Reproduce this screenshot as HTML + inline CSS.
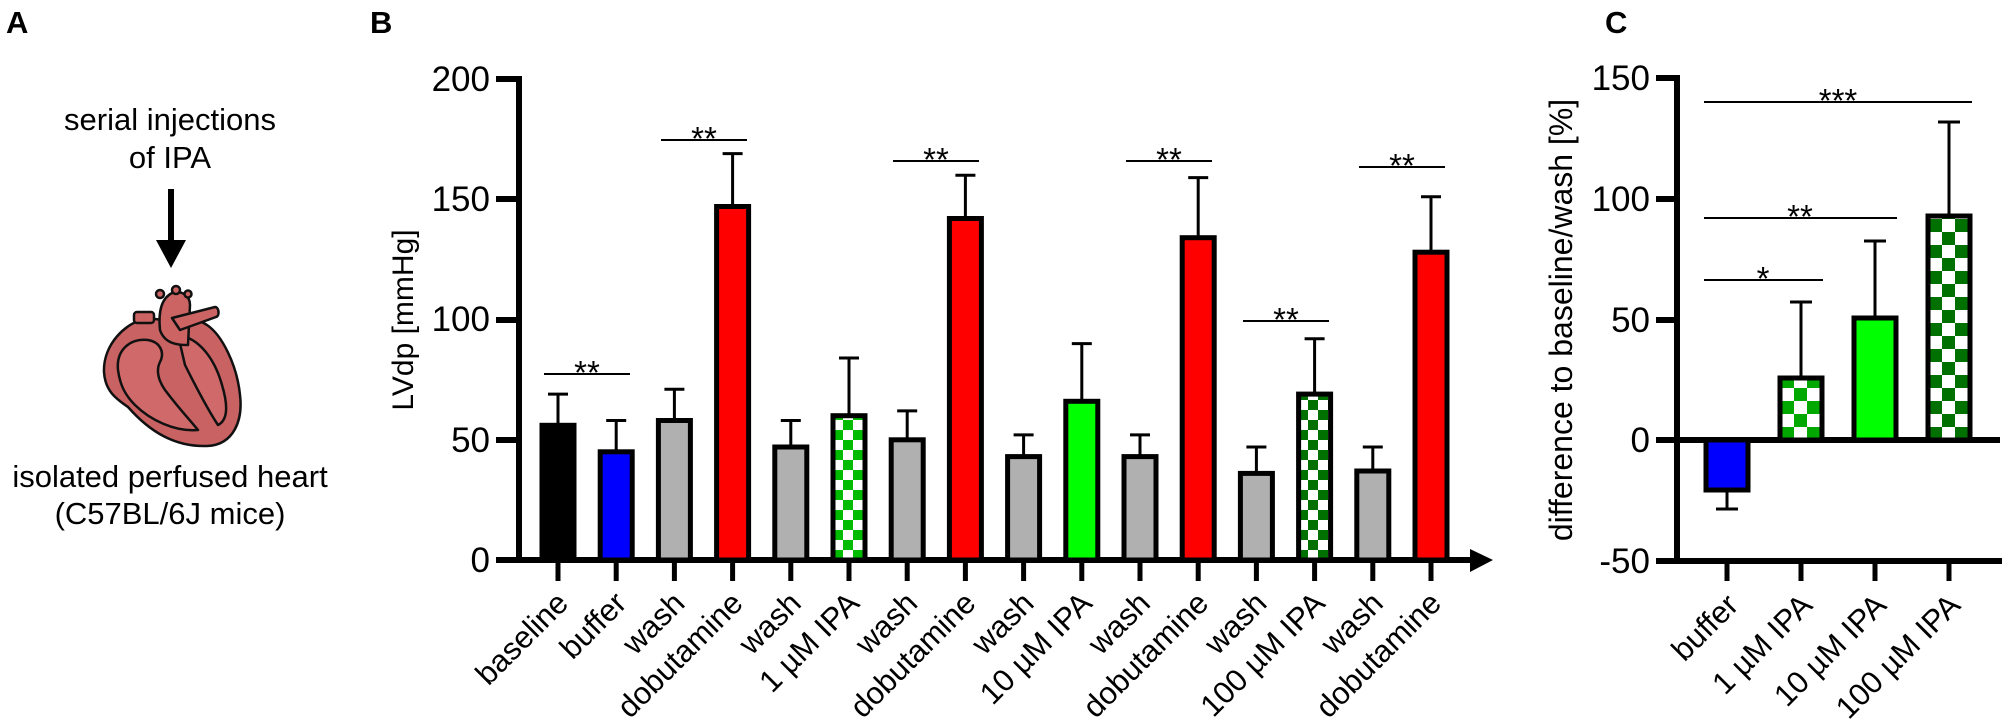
<!DOCTYPE html>
<html><head><meta charset="utf-8"><style>
html,body{margin:0;padding:0;background:#fff;}
svg{display:block;}
text{font-family:"Liberation Sans",Arial,sans-serif;fill:#000;}
</style></head><body>
<svg width="2008" height="725" viewBox="0 0 2008 725" xmlns="http://www.w3.org/2000/svg">
<defs>
<pattern id="pl" patternUnits="userSpaceOnUse" x="833" y="0" width="20" height="20"><rect width="20" height="20" fill="#fff"/><rect x="10" y="0" width="10" height="10" fill="#00bb00"/><rect x="0" y="10" width="10" height="10" fill="#00bb00"/></pattern>
<pattern id="pd" patternUnits="userSpaceOnUse" x="1298" y="0" width="20" height="20"><rect width="20" height="20" fill="#fff"/><rect x="10" y="0" width="10" height="10" fill="#007000"/><rect x="0" y="10" width="10" height="10" fill="#007000"/></pattern>
<pattern id="cl" patternUnits="userSpaceOnUse" x="1781" y="440" width="26" height="26"><rect width="26" height="26" fill="#fff"/><rect x="13" y="0" width="13" height="13" fill="#00a800"/><rect x="0" y="13" width="13" height="13" fill="#00a800"/></pattern>
<pattern id="cd" patternUnits="userSpaceOnUse" x="1929" y="440" width="26" height="26"><rect width="26" height="26" fill="#fff"/><rect x="13" y="0" width="13" height="13" fill="#007000"/><rect x="0" y="13" width="13" height="13" fill="#007000"/></pattern>
</defs>

<text x="6" y="33" font-size="31" font-weight="bold">A</text>
<text x="370" y="33" font-size="31" font-weight="bold">B</text>
<text x="1605" y="33" font-size="31" font-weight="bold">C</text>

<!-- Panel A -->
<text x="170" y="130" font-size="31" text-anchor="middle">serial injections</text>
<text x="170" y="168" font-size="31" text-anchor="middle">of IPA</text>
<line x1="171" y1="189" x2="171" y2="245" stroke="#000" stroke-width="6"/>
<polygon points="156,240 186,240 171,268" fill="#000"/>
<g stroke="#111" stroke-width="2.5" stroke-linejoin="round">
<path d="M148,318 C125,322 103,345 104,372 C105,392 118,400 128,407 C150,432 175,447 207,446 C234,445 243,420 240,395 C237,365 222,335 207,325 C197,318 187,320 177,322 Z" fill="#c96262"/>
<path d="M118,370 C116,350 130,338 148,340 C160,342 165,352 160,362 C156,370 158,380 165,390 C180,410 190,420 198,430 C175,432 150,420 135,405 C125,395 120,385 118,370 Z" fill="#d06a6a"/>
<path d="M178,335 C200,338 215,360 222,385 C228,405 228,420 218,425 C208,410 195,385 185,365 Z" fill="#d06a6a"/>
<path d="M160,330 C158,310 162,298 172,293 C182,290 190,296 190,305 L188,345 C180,345 165,345 160,330 Z" fill="#cc6464"/>
<rect x="134" y="312" width="20" height="11" rx="3" fill="#cc6464"/>
<path d="M172,318 L215,307 C219,307 220,316 216,317 L180,330 Z" fill="#cc6464"/>
<circle cx="160" cy="294" r="4" fill="#cc6464"/>
<circle cx="176" cy="290" r="4" fill="#cc6464"/>
<circle cx="188" cy="294" r="3.5" fill="#cc6464"/>
</g>
<text x="170" y="487" font-size="31" text-anchor="middle">isolated perfused heart</text>
<text x="170" y="524" font-size="31" text-anchor="middle">(C57BL/6J mice)</text>

<!-- Panel B -->
<text transform="translate(413,320) rotate(-90)" font-size="30" text-anchor="middle">LVdp [mmHg]</text>
<g font-size="35" text-anchor="end">
<text x="490" y="572">0</text>
<text x="490" y="452">50</text>
<text x="490" y="331">100</text>
<text x="490" y="211">150</text>
<text x="490" y="91">200</text>
</g>
<g stroke="#000" stroke-width="6">
<line x1="519" y1="76" x2="519" y2="563"/>
<line x1="496" y1="79" x2="519" y2="79"/>
<line x1="496" y1="199" x2="519" y2="199"/>
<line x1="496" y1="320" x2="519" y2="320"/>
<line x1="496" y1="440" x2="519" y2="440"/>
<line x1="496" y1="560" x2="1474" y2="560"/>
</g>
<polygon points="1470,549 1493,560 1470,572" fill="#000"/>

<g stroke="#000" stroke-width="5">
<rect x="542" y="425.3" width="32" height="134.7" fill="#000"/>
<rect x="600.2" y="451.8" width="32" height="108.2" fill="#0000ff"/>
<rect x="658.4" y="420.5" width="32" height="139.5" fill="#b0b0b0"/>
<rect x="716.6" y="206.5" width="32" height="353.5" fill="#ff0000"/>
<rect x="774.8" y="447" width="32" height="113" fill="#b0b0b0"/>
<rect x="833" y="415.7" width="32" height="144.3" fill="url(#pl)"/>
<rect x="891.2" y="439.8" width="32" height="120.2" fill="#b0b0b0"/>
<rect x="949.4" y="218.5" width="32" height="341.5" fill="#ff0000"/>
<rect x="1007.6" y="456.6" width="32" height="103.4" fill="#b0b0b0"/>
<rect x="1065.8" y="401.3" width="32" height="158.7" fill="#00ff00"/>
<rect x="1124" y="456.6" width="32" height="103.4" fill="#b0b0b0"/>
<rect x="1182.2" y="237.7" width="32" height="322.3" fill="#ff0000"/>
<rect x="1240.4" y="473.4" width="32" height="86.6" fill="#b0b0b0"/>
<rect x="1298.6" y="394.1" width="32" height="165.9" fill="url(#pd)"/>
<rect x="1356.8" y="471" width="32" height="89" fill="#b0b0b0"/>
<rect x="1415" y="252.2" width="32" height="307.8" fill="#ff0000"/>
</g>
<g stroke="#000" stroke-width="3">
<path d="M558,423 V394.1 M548,394.1 H568"/>
<path d="M616.2,450 V420.5 M606.2,420.5 H626.2"/>
<path d="M674.4,418 V389.2 M664.4,389.2 H684.4"/>
<path d="M732.6,205 V153.6 M722.6,153.6 H742.6"/>
<path d="M790.8,445 V420.5 M780.8,420.5 H800.8"/>
<path d="M849,414 V358 M839,358 H859"/>
<path d="M907.2,438 V410.9 M897.2,410.9 H917.2"/>
<path d="M965.4,217 V175.2 M955.4,175.2 H975.4"/>
<path d="M1023.6,455 V434.9 M1013.6,434.9 H1033.6"/>
<path d="M1081.8,400 V343.6 M1071.8,343.6 H1091.8"/>
<path d="M1140,455 V434.9 M1130,434.9 H1150"/>
<path d="M1198.2,236 V177.6 M1188.2,177.6 H1208.2"/>
<path d="M1256.4,472 V447 M1246.4,447 H1266.4"/>
<path d="M1314.6,392 V338.7 M1304.6,338.7 H1324.6"/>
<path d="M1372.8,469 V447 M1362.8,447 H1382.8"/>
<path d="M1431,250 V196.8 M1421,196.8 H1441"/>
</g>
<g stroke="#000" stroke-width="5">
<path d="M558,560V581 M616.2,560V581 M674.4,560V581 M732.6,560V581 M790.8,560V581 M849,560V581 M907.2,560V581 M965.4,560V581 M1023.6,560V581 M1081.8,560V581 M1140,560V581 M1198.2,560V581 M1256.4,560V581 M1314.6,560V581 M1372.8,560V581 M1431,560V581"/>
</g>
<g stroke="#000" stroke-width="2">
<line x1="544" y1="374" x2="630" y2="374"/>
<line x1="661" y1="140" x2="747" y2="140"/>
<line x1="893" y1="161" x2="979" y2="161"/>
<line x1="1126" y1="161" x2="1212" y2="161"/>
<line x1="1243" y1="321" x2="1329" y2="321"/>
<line x1="1359" y1="167" x2="1445" y2="167"/>
</g>
<g font-size="33" text-anchor="middle">
<text x="587" y="384">**</text>
<text x="704" y="150">**</text>
<text x="936" y="171">**</text>
<text x="1169" y="171">**</text>
<text x="1286" y="331">**</text>
<text x="1402" y="177">**</text>
</g>
<g font-size="31" text-anchor="end">
<text transform="translate(570,605) rotate(-45)">baseline</text>
<text transform="translate(628.2,605) rotate(-45)">buffer</text>
<text transform="translate(686.4,605) rotate(-45)">wash</text>
<text transform="translate(744.6,605) rotate(-45)">dobutamine</text>
<text transform="translate(802.8,605) rotate(-45)">wash</text>
<text transform="translate(861,605) rotate(-45)">1 µM IPA</text>
<text transform="translate(919.2,605) rotate(-45)">wash</text>
<text transform="translate(977.4,605) rotate(-45)">dobutamine</text>
<text transform="translate(1035.6,605) rotate(-45)">wash</text>
<text transform="translate(1093.8,605) rotate(-45)">10 µM IPA</text>
<text transform="translate(1152,605) rotate(-45)">wash</text>
<text transform="translate(1210.2,605) rotate(-45)">dobutamine</text>
<text transform="translate(1268.4,605) rotate(-45)">wash</text>
<text transform="translate(1326.6,605) rotate(-45)">100 µM IPA</text>
<text transform="translate(1384.8,605) rotate(-45)">wash</text>
<text transform="translate(1443,605) rotate(-45)">dobutamine</text>
</g>

<!-- Panel C -->
<text transform="translate(1572,320) rotate(-90)" font-size="32" text-anchor="middle">difference to baseline/wash [%]</text>
<g font-size="35" text-anchor="end">
<text x="1650" y="90">150</text>
<text x="1650" y="211">100</text>
<text x="1650" y="332">50</text>
<text x="1650" y="452">0</text>
<text x="1650" y="573">-50</text>
</g>
<g stroke="#000" stroke-width="6">
<line x1="1677" y1="75" x2="1677" y2="564"/>
<line x1="1656" y1="78" x2="1677" y2="78"/>
<line x1="1656" y1="199" x2="1677" y2="199"/>
<line x1="1656" y1="320" x2="1677" y2="320"/>
<line x1="1656" y1="440" x2="2000" y2="440"/>
<line x1="1656" y1="561" x2="2002" y2="561"/>
</g>
<g stroke="#000" stroke-width="5">
<rect x="1706" y="440" width="42" height="50" fill="#0000ff"/>
<rect x="1780" y="378" width="42" height="62" fill="url(#cl)"/>
<rect x="1854" y="318" width="42" height="122" fill="#00ff00"/>
<rect x="1928" y="216" width="42" height="224" fill="url(#cd)"/>
</g>
<g stroke="#000" stroke-width="3">
<path d="M1727,492 V509 M1716,509 H1738"/>
<path d="M1801,376 V302 M1790,302 H1812"/>
<path d="M1875,316 V241 M1864,241 H1886"/>
<path d="M1949,214 V122 M1938,122 H1960"/>
</g>
<g stroke="#000" stroke-width="5">
<path d="M1727,561V581 M1801,561V581 M1875,561V581 M1949,561V581"/>
</g>
<g stroke="#000" stroke-width="2">
<line x1="1704" y1="102" x2="1972" y2="102"/>
<line x1="1704" y1="218" x2="1897" y2="218"/>
<line x1="1704" y1="280" x2="1823" y2="280"/>
</g>
<g font-size="33" text-anchor="middle">
<text x="1838" y="112">***</text>
<text x="1800" y="228">**</text>
<text x="1763" y="290">*</text>
</g>
<g font-size="31" text-anchor="end">
<text transform="translate(1740,607) rotate(-45)">buffer</text>
<text transform="translate(1814,607) rotate(-45)">1 µM IPA</text>
<text transform="translate(1888,607) rotate(-45)">10 µM IPA</text>
<text transform="translate(1962,607) rotate(-45)">100 µM IPA</text>
</g>
</svg>
</body></html>
